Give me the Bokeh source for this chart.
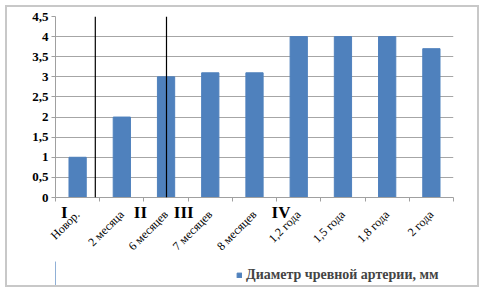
import math
from bokeh.plotting import figure
from bokeh.layouts import column
from bokeh.models import (ColumnDataSource, FixedTicker, LinearAxis, Legend, LegendItem, Span)
from bokeh.embed import file_html
from bokeh.resources import INLINE

categories = ["Новор.", "2 месяца", "6 месяцев", "7 месяцев", "8 месяцев",
              "1,2 года", "1,5 года", "1,8 года", "2 года"]
diameter = [1, 2, 3, 3.1, 3.1, 4, 4, 4, 3.7]
y_ticks = [0, 0.5, 1, 1.5, 2, 2.5, 3, 3.5, 4, 4.5]
y_labels = ["0", "0,5", "1", "1,5", "2", "2,5", "3", "3,5", "4", "4,5"]
period_labels = ["I", "II", "III", "IV"]
period_x = [0.2, 1.92, 2.9, 5.1]
divider_x = [0.9, 2.51]
series_name = "Диаметр чревной артерии, мм"
bar_color = "#4f81bd"

xs = [i + 0.5 for i in range(len(categories))]
bounds = list(range(len(categories) + 1))
src = ColumnDataSource(dict(x=xs, top=diameter))

p = figure(width=470, height=254, output_backend="svg", toolbar_location=None,
           x_range=(0, len(categories)), y_range=(0, 4.5), x_axis_location=None,
           min_border_left=48, min_border_right=24, min_border_top=9, min_border_bottom=50)
p.outline_line_color = None

r = p.vbar(x="x", top="top", width=0.39, bottom=0, source=src, color=bar_color)

p.yaxis.ticker = FixedTicker(ticks=y_ticks)
p.yaxis.major_label_overrides = {t: l for t, l in zip(y_ticks, y_labels)}
p.yaxis.major_label_text_font = "Liberation Serif"
p.yaxis.major_label_text_font_style = "bold"
p.yaxis.major_label_text_font_size = "13px"
p.yaxis.major_label_text_color = "black"
p.yaxis.axis_line_color = "#a0a0a0"
p.yaxis.major_tick_line_color = "#a0a0a0"
p.yaxis.major_tick_out = 4
p.yaxis.major_tick_in = 0
p.yaxis.minor_tick_line_color = None
p.yaxis.major_label_standoff = 3

ax_period = LinearAxis(ticker=FixedTicker(ticks=period_x, minor_ticks=bounds),
                       major_label_overrides={x: t for x, t in zip(period_x, period_labels)},
                       major_label_text_font="Liberation Serif",
                       major_label_text_font_style="bold",
                       major_label_text_font_size="17px",
                       major_label_text_color="black",
                       major_label_standoff=1,
                       major_tick_line_color=None, major_tick_out=0, major_tick_in=0,
                       minor_tick_line_color="#a0a0a0", minor_tick_out=4, minor_tick_in=0,
                       axis_line_color="#a0a0a0")
p.add_layout(ax_period, "below")

ax_cat = LinearAxis(ticker=FixedTicker(ticks=xs, minor_ticks=[]),
                    major_label_overrides={x: c for x, c in zip(xs, categories)},
                    major_label_orientation=math.pi / 4,
                    major_label_text_font="Liberation Serif",
                    major_label_text_font_size="12px",
                    major_label_text_color="black",
                    major_label_standoff=-12,
                    major_tick_line_color=None, major_tick_out=0, major_tick_in=0,
                    minor_tick_line_color=None, minor_tick_out=0,
                    axis_line_color=None)
p.add_layout(ax_cat, "below")

p.xgrid.grid_line_color = None
p.ygrid.ticker = FixedTicker(ticks=y_ticks)
p.ygrid.grid_line_color = "#a6a6a6"

for dx in divider_x:
    p.add_layout(Span(location=dx, dimension="height", line_color="black", line_width=1.2))

# legend strip
p2 = figure(width=470, height=24, output_backend="svg", toolbar_location=None,
            x_range=(0, 1), y_range=(0, 1), x_axis_location=None, y_axis_location=None,
            min_border_left=48, min_border_right=24, min_border_top=0, min_border_bottom=0)
p2.outline_line_color = None
p2.xgrid.visible = False
p2.ygrid.visible = False
r2 = p2.vbar(x=[-5], top=[1], width=0.1, color=bar_color)
legend = Legend(items=[LegendItem(label=series_name, renderers=[r2])],
                location=(181, 2), orientation="horizontal",
                label_text_font="Liberation Serif", label_text_font_style="bold",
                label_text_font_size="14px", glyph_width=6, glyph_height=6,
                label_standoff=4, border_line_color=None, background_fill_alpha=0,
                padding=2, margin=0)
p2.add_layout(legend, "center")

layout = column(p, p2, spacing=0,
                styles={"border": "2px solid #c8c8c8", "margin": "5px", "gap": "0px"})

open("out.html", "w").write(file_html(layout, INLINE))
